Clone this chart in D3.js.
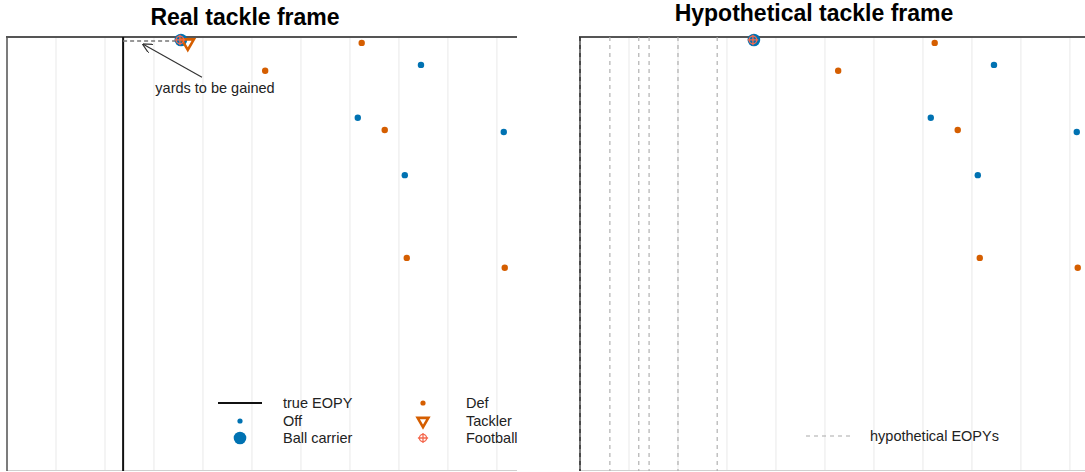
<!DOCTYPE html>
<html>
<head>
<meta charset="utf-8">
<script src="https://cdn.jsdelivr.net/npm/d3@7"></script>
<style>
  body { margin: 0; background: #fff; }
  svg { display: block; font-family: "Liberation Sans", Arial, sans-serif; }
</style>
</head>
<body>
<div class="chart"></div>
<script>
// positions in yards (x downfield, y across the field from the sideline)
const offX = [8.45, 7.16, 10.14, 8.12];
const offY = [0.57, 1.65, 1.94, 2.82];
const defX = [7.24, 5.27, 7.71, 8.16, 10.16];
const defY = [0.12, 0.69, 1.90, 4.51, 4.71];
const carrier = [3.55, 0.06];
const football = [3.53, 0.06];
const tackler = [3.69, 0.12];
const trueEopy = 2.37;
const hypEopys = [0, 0.61, 1.2, 1.41, 2.0, 2.8];
const gridYards = d3.range(0, 11);

const offBlue = "#0072B2", defOrange = "#D55E00", ballRed = "#F4694F";

const width = 1085, height = 472;
const svg = d3.select(".chart").append("svg")
    .attr("width", width)
    .attr("height", height);

const y = d3.scaleLinear().domain([0, 8.86]).range([37, 471]);

const panels = [
    {title: "Real tackle frame", tx: 245, ty: 25, x: d3.scaleLinear().domain([0, 10.41]).range([7, 517]), real: true},
    {title: "Hypothetical tackle frame", tx: 814, ty: 21, x: d3.scaleLinear().domain([0, 10.41]).range([580, 1090]), real: false}
];

const footballPath = (g, cx, cy, r) => {
    g.append("circle").attr("cx", cx).attr("cy", cy).attr("r", r)
        .attr("fill", "none").attr("stroke", ballRed).attr("stroke-width", 1.3);
    g.append("path")
        .attr("d", `M${cx - r - 1.5},${cy}H${cx + r + 1.5}M${cx},${cy - r - 1.5}V${cy + r + 1.5}`)
        .attr("stroke", ballRed).attr("stroke-width", 1.3);
};

panels.forEach(p => {
    const x = p.x;
    const g = svg.append("g");

    g.append("text")
        .attr("x", p.tx).attr("y", p.ty)
        .attr("text-anchor", "middle")
        .style("font-size", "23px").style("font-weight", "bold")
        .text(p.title);

    g.append("g").selectAll("line")
        .data(gridYards)
        .join("line")
        .attr("x1", d => x(d)).attr("x2", d => x(d))
        .attr("y1", y(0)).attr("y2", y.range()[1])
        .attr("stroke", "#ebebeb").attr("stroke-width", 1.1);

    g.append("line")
        .attr("x1", x(0)).attr("x2", x.range()[1])
        .attr("y1", y.range()[1] - 0.5).attr("y2", y.range()[1] - 0.5)
        .attr("stroke", "#d0d0d0");
    g.append("line")
        .attr("x1", x(0)).attr("x2", x(0))
        .attr("y1", y(0)).attr("y2", y.range()[1])
        .attr("stroke", "#555").attr("stroke-width", 1.5);
    g.append("line")
        .attr("x1", x(0) - 1).attr("x2", x.range()[1])
        .attr("y1", y(0)).attr("y2", y(0))
        .attr("stroke", "#555").attr("stroke-width", 2);

    if (p.real) {
        g.append("line")
            .attr("x1", x(trueEopy)).attr("x2", x(trueEopy))
            .attr("y1", y(0)).attr("y2", y.range()[1])
            .attr("stroke", "#111").attr("stroke-width", 2);
        g.append("line")
            .attr("x1", x(trueEopy)).attr("x2", x(carrier[0]))
            .attr("y1", y(carrier[1]) + 1).attr("y2", y(carrier[1]) + 1)
            .attr("stroke", "#777").attr("stroke-width", 1.5)
            .attr("stroke-dasharray", "4,3");
    } else {
        g.append("g").selectAll("line")
            .data(hypEopys)
            .join("line")
            .attr("x1", d => x(d)).attr("x2", d => x(d))
            .attr("y1", y(0)).attr("y2", y.range()[1])
            .attr("stroke", (d, i) => i === 0 ? "#222" : "#aaa")
            .attr("stroke-width", 1.1)
            .attr("stroke-dasharray", "4,4");
    }

    g.append("g").selectAll("circle")
        .data(defX.map((d, i) => [d, defY[i]]))
        .join("circle")
        .attr("cx", d => x(d[0])).attr("cy", d => y(d[1]))
        .attr("r", 3.2).attr("fill", defOrange);
    g.append("g").selectAll("circle")
        .data(offX.map((d, i) => [d, offY[i]]))
        .join("circle")
        .attr("cx", d => x(d[0])).attr("cy", d => y(d[1]))
        .attr("r", 3.2).attr("fill", offBlue);

    g.append("circle")
        .attr("cx", x(carrier[0])).attr("cy", y(carrier[1]))
        .attr("r", 6.3).attr("fill", offBlue);

    if (p.real) {
        g.append("path")
            .attr("d", d3.symbol(d3.symbolTriangle, 65)())
            .attr("transform", `translate(${x(tackler[0])},${y(tackler[1])}) rotate(180)`)
            .attr("fill", "none").attr("stroke", defOrange).attr("stroke-width", 2.6);
    }
    footballPath(g, x(football[0]), y(football[1]), 3.8);
});

// annotation on the real frame
const xr = panels[0].x;
svg.append("defs").append("marker")
    .attr("id", "arrow")
    .attr("viewBox", "0 0 10 10")
    .attr("refX", 9).attr("refY", 5)
    .attr("markerWidth", 9).attr("markerHeight", 9)
    .attr("orient", "auto-start-reverse")
    .append("path")
    .attr("d", "M0,0L10,5L0,10")
    .attr("fill", "none").attr("stroke", "#333").attr("stroke-width", 1.2);
svg.append("line")
    .attr("x1", xr(3.98)).attr("y1", y(0.82))
    .attr("x2", xr(2.78)).attr("y2", y(0.15))
    .attr("stroke", "#333").attr("stroke-width", 1.1)
    .attr("marker-end", "url(#arrow)");
svg.append("text")
    .attr("x", 215).attr("y", 93)
    .attr("text-anchor", "middle")
    .style("font-size", "14.5px").style("fill", "#222")
    .text("yards to be gained");

// legends
const leg = svg.append("g").style("font-size", "14.5px").style("fill", "#222");
const rows = [403, 421, 438];
leg.append("line").attr("x1", 218).attr("x2", 262).attr("y1", rows[0]).attr("y2", rows[0])
    .attr("stroke", "#111").attr("stroke-width", 2);
leg.append("circle").attr("cx", 240).attr("cy", rows[1]).attr("r", 2.6).attr("fill", offBlue);
leg.append("circle").attr("cx", 240).attr("cy", rows[2]).attr("r", 6.3).attr("fill", offBlue);
leg.append("circle").attr("cx", 423).attr("cy", rows[0]).attr("r", 2.6).attr("fill", defOrange);
leg.append("path")
    .attr("d", d3.symbol(d3.symbolTriangle, 50)())
    .attr("transform", `translate(423,${rows[1]}) rotate(180)`)
    .attr("fill", "none").attr("stroke", defOrange).attr("stroke-width", 2.6);
footballPath(leg, 423, rows[2], 3.6);
["true EOPY", "Off", "Ball carrier"].forEach((t, i) => {
    leg.append("text").attr("x", 283).attr("y", rows[i] + 5).text(t);
});
["Def", "Tackler", "Football"].forEach((t, i) => {
    leg.append("text").attr("x", 466).attr("y", rows[i] + 5).text(t);
});
leg.append("line").attr("x1", 806).attr("x2", 850).attr("y1", 436).attr("y2", 436)
    .attr("stroke", "#aaa").attr("stroke-width", 1.1).attr("stroke-dasharray", "4,4");
leg.append("text").attr("x", 870).attr("y", 441).text("hypothetical EOPYs");
</script>
</body>
</html>
